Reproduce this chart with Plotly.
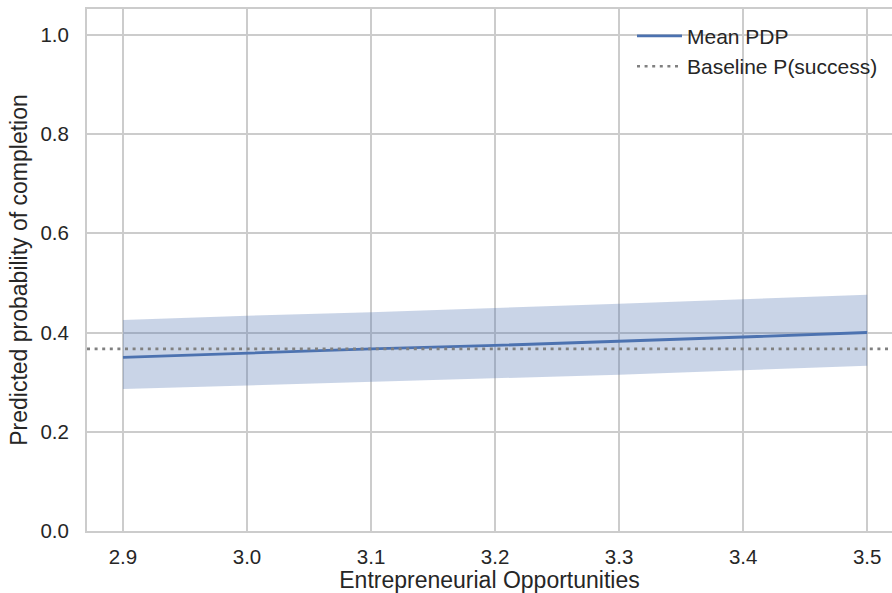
import plotly.graph_objects as go

# Partial dependence of completion probability on entrepreneurial opportunities
grid_x = [2.9, 3.0, 3.1, 3.2, 3.3, 3.4, 3.5]
mean_pdp = [0.350, 0.359, 0.367, 0.374, 0.382, 0.391, 0.400]
pdp_upper = [0.425, 0.434, 0.441, 0.449, 0.458, 0.467, 0.476]
pdp_lower = [0.286, 0.293, 0.300, 0.307, 0.315, 0.324, 0.333]
baseline_p = 0.367

x_ticks = [2.9, 3.0, 3.1, 3.2, 3.3, 3.4, 3.5]
y_ticks = [0.0, 0.2, 0.4, 0.6, 0.8, 1.0]

BLUE = "#4c72b0"
GRID = "#cccccc"
GRAY = "#808080"
TEXT = "#262626"
FONT = "Liberation Sans, Arial, sans-serif"
BASE_LINE = dict(color=GRAY, width=2.6, dash="3px,4.6px")

fig = go.Figure()

# uncertainty band
fig.add_trace(go.Scatter(x=grid_x, y=pdp_upper, mode="lines",
                         line=dict(width=0, color=BLUE), showlegend=False,
                         hoverinfo="skip"))
fig.add_trace(go.Scatter(x=grid_x, y=pdp_lower, mode="lines",
                         line=dict(width=0, color=BLUE), fill="tonexty",
                         fillcolor="rgba(76,114,176,0.3)", showlegend=False,
                         hoverinfo="skip"))
# mean partial dependence
fig.add_trace(go.Scatter(x=grid_x, y=mean_pdp, mode="lines",
                         line=dict(color=BLUE, width=2.8), name="Mean PDP"))

# baseline success probability across the whole axis (legend entry via empty trace)
fig.add_shape(type="line", xref="paper", x0=0, x1=1, yref="y",
              y0=baseline_p, y1=baseline_p, line=BASE_LINE)
fig.add_trace(go.Scatter(x=[None], y=[None], mode="lines", line=BASE_LINE,
                         name="Baseline P(success)"))

fig.update_layout(
    width=892, height=593,
    margin=dict(l=87, r=0, t=9, b=62),
    paper_bgcolor="white", plot_bgcolor="white",
    font=dict(family=FONT, color=TEXT, size=20),
    legend=dict(x=0.677, y=0.987, xanchor="left", yanchor="top",
                bgcolor="rgba(0,0,0,0)", font=dict(size=21, color=TEXT),
                itemwidth=45, tracegroupgap=0, traceorder="normal"),
    showlegend=True,
)

fig.update_xaxes(
    range=[2.871, 3.520], tickvals=x_ticks,
    ticktext=[f"{v:.1f}" for v in x_ticks],
    showgrid=True, gridcolor=GRID, gridwidth=2,
    showline=True, linecolor=GRID, linewidth=2, mirror=True,
    zeroline=False, ticks="", ticklabelstandoff=6,
    tickfont=dict(size=20.5, color=TEXT),
    title=dict(text="Entrepreneurial Opportunities", standoff=4,
               font=dict(size=23, color=TEXT)),
)
fig.update_yaxes(
    range=[0, 1.052], tickvals=y_ticks,
    ticktext=[f"{v:.1f}" for v in y_ticks],
    showgrid=True, gridcolor=GRID, gridwidth=2,
    showline=True, linecolor=GRID, linewidth=2,
    zeroline=False, ticks="", ticklabelstandoff=12,
    tickfont=dict(size=20.5, color=TEXT),
    title=dict(text="Predicted probability of completion", standoff=6,
               font=dict(size=23, color=TEXT)),
)

fig.write_html("out.html")
